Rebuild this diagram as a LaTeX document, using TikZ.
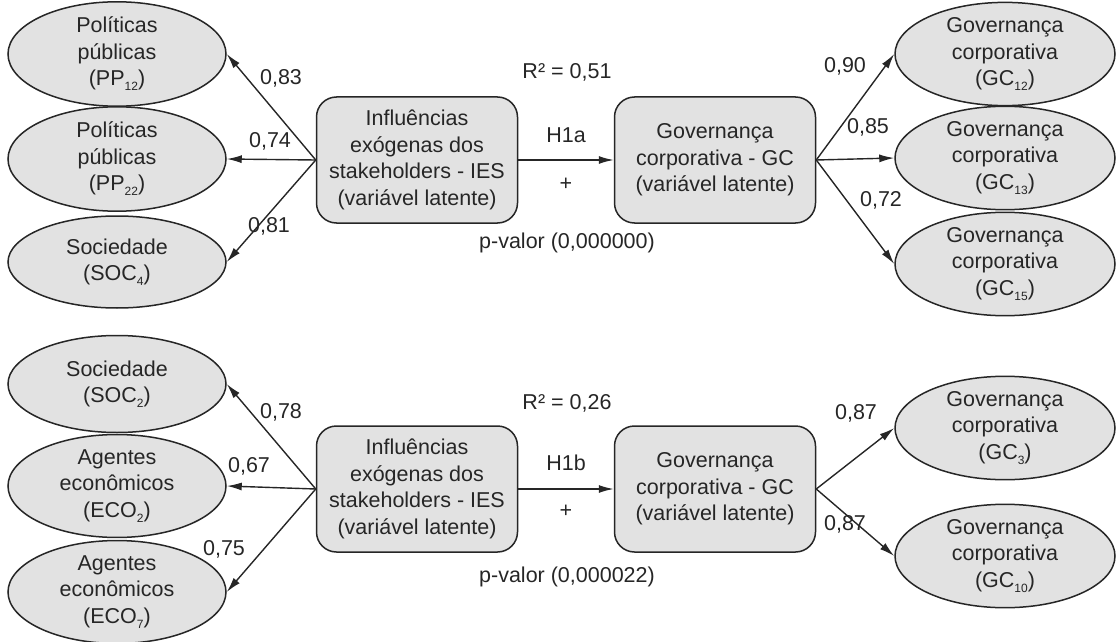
\documentclass[tikz,border=0pt]{standalone}
\usepackage{fontspec}
\setmainfont{Liberation Sans}
\usetikzlibrary{shapes.geometric,arrows.meta}
\newcommand{\sbx}[1]{\raisebox{-5pt}{\fontsize{12}{12}\selectfont #1}}
\definecolor{fillg}{HTML}{E2E2E2}
\definecolor{lineg}{HTML}{262626}
\tikzset{
  every node/.style={font=\fontsize{21.5}{26.5}\selectfont, text=lineg},
  ell/.style={ellipse, draw=lineg, line width=1.5pt, fill=fillg, inner sep=0pt, align=center},
  lat/.style={rectangle, rounded corners=20pt, draw=lineg, line width=1.5pt, fill=fillg, minimum width=201pt, minimum height=126pt, inner sep=0pt, align=center},
  arr/.style={draw=lineg, line width=1.4pt, -{Latex[length=15pt,width=8pt]}},
  lbl/.style={inner sep=0pt}
}
\begin{document}
\begin{tikzpicture}[x=1pt,y=-1pt]
\useasboundingbox (0,0) rectangle (1117,642);
% ---------- top model ----------
\node[ell, minimum width=218pt, minimum height=97pt] (pp12) at (117,54) {Políticas\\públicas\\(PP\sbx{12})};
\node[ell, minimum width=218pt, minimum height=92pt] (pp22) at (117,159) {Políticas\\públicas\\(PP\sbx{22})};
\node[ell, minimum width=218pt, minimum height=92pt] (soc4) at (117,262) {Sociedade\\(SOC\sbx{4})};
\node[lat] (ies1) at (417,160) {Influências\\exógenas dos\\stakeholders - IES\\(variável latente)};
\node[lat] (gc1) at (715,160) {Governança\\corporativa - GC\\(variável latente)};
\node[ell, minimum width=220pt, minimum height=97pt] (gc12) at (1005,54) {Governança\\corporativa\\(GC\sbx{12})};
\node[ell, minimum width=220pt, minimum height=90pt] (gc13) at (1005,158) {Governança\\corporativa\\(GC\sbx{13})};
\node[ell, minimum width=220pt, minimum height=93pt] (gc15) at (1005,264) {Governança\\corporativa\\(GC\sbx{15})};
\draw[arr] (ies1.west) -- (pp12.east);
\draw[arr] (ies1.west) -- (pp22.east);
\draw[arr] (ies1.west) -- (soc4.east);
\draw[arr] (ies1.east) -- (gc1.west);
\draw[arr] (gc1.east) -- (gc12.west);
\draw[arr] (gc1.east) -- (gc13.west);
\draw[arr] (gc1.east) -- (gc15.west);
\node[lbl] (l83) at (281,78) {0,83};
\node[lbl] (l74) at (270,141) {0,74};
\node[lbl] (l81) at (269,226) {0,81};
\node[lbl] (l90) at (845,66) {0,90};
\node[lbl] (l85) at (868,127) {0,85};
\node[lbl] (l72) at (881,200) {0,72};
\node[lbl] (r1) at (567,72) {R² = 0,51};
\node[lbl] (h1a) at (566,135) {H1a};
\node[lbl] (p1) at (566,184) {+};
\node[lbl] (pv1) at (567,243) {p-valor (0,000000)};
% ---------- bottom model ----------
\node[ell, minimum width=218pt, minimum height=97pt] (soc2) at (117,384) {Sociedade\\(SOC\sbx{2})};
\node[ell, minimum width=218pt, minimum height=90pt] (eco2) at (117,486) {Agentes\\econômicos\\(ECO\sbx{2})};
\node[ell, minimum width=218pt, minimum height=97pt] (eco7) at (117,592) {Agentes\\econômicos\\(ECO\sbx{7})};
\node[lat] (ies2) at (417,489) {Influências\\exógenas dos\\stakeholders - IES\\(variável latente)};
\node[lat] (gc2) at (715,489) {Governança\\corporativa - GC\\(variável latente)};
\node[ell, minimum width=220pt, minimum height=92pt] (gc3) at (1005,428) {Governança\\corporativa\\(GC\sbx{3})};
\node[ell, minimum width=220pt, minimum height=94pt] (gc10) at (1005,556) {Governança\\corporativa\\(GC\sbx{10})};
\draw[arr] (ies2.west) -- (soc2.east);
\draw[arr] (ies2.west) -- (eco2.east);
\draw[arr] (ies2.west) -- (eco7.east);
\draw[arr] (ies2.east) -- (gc2.west);
\draw[arr] (gc2.east) -- (gc3.west);
\draw[arr] (gc2.east) -- (gc10.west);
\node[lbl] (l78) at (281,412) {0,78};
\node[lbl] (l67) at (249,466) {0,67};
\node[lbl] (l75) at (224,549) {0,75};
\node[lbl] (l87a) at (856,413) {0,87};
\node[lbl] (l87b) at (845,524) {0,87};
\node[lbl] (r2) at (567,403) {R² = 0,26};
\node[lbl] (h1b) at (566,463) {H1b};
\node[lbl] (p2) at (566,511) {+};
\node[lbl] (pv2) at (567,577) {p-valor (0,000022)};
\end{tikzpicture}
\end{document}
